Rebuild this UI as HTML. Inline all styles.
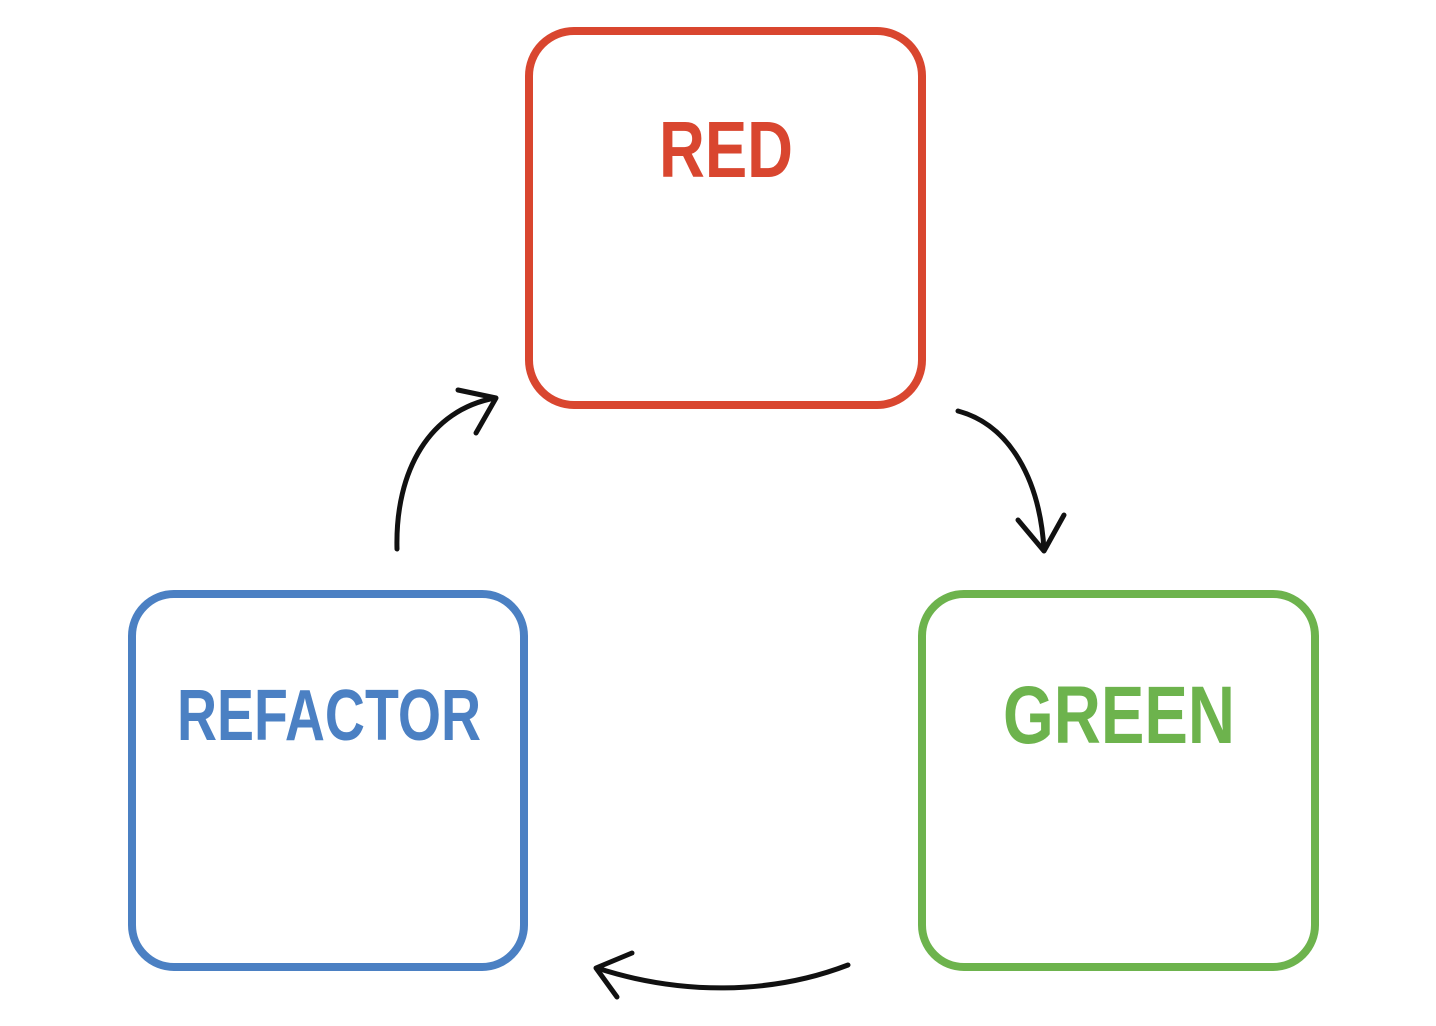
<!DOCTYPE html>
<html><head><meta charset="utf-8"><style>
html,body{margin:0;padding:0;background:#fff;width:1436px;height:1026px;overflow:hidden}
svg{display:block}
text{font-family:"Liberation Sans",sans-serif;font-weight:bold}
</style></head><body>
<svg width="1436" height="1026" viewBox="0 0 1436 1026">
<rect x="529" y="31" width="393" height="374" rx="45" fill="none" stroke="#d9462f" stroke-width="8"/>
<rect x="132" y="594" width="392" height="373" rx="42" fill="none" stroke="#4b80c3" stroke-width="8"/>
<rect x="922" y="594" width="393" height="373" rx="42" fill="none" stroke="#6db34d" stroke-width="8"/>
<text x="726" y="177" text-anchor="middle" font-size="80" fill="#d9462f" textLength="134" lengthAdjust="spacingAndGlyphs">RED</text>
<text x="329" y="740" text-anchor="middle" font-size="72" fill="#4b80c3" textLength="304" lengthAdjust="spacingAndGlyphs">REFACTOR</text>
<text x="1119" y="743" text-anchor="middle" font-size="82" fill="#6db34d" textLength="232" lengthAdjust="spacingAndGlyphs">GREEN</text>
<g fill="none" stroke="#111" stroke-width="5" stroke-linecap="round" stroke-linejoin="round">
<path d="M397 549 C395 470 430 410 495 398"/>
<path d="M458 390 L496 398 L476 433"/>
<path d="M958 411 C1010 425 1040 480 1044 550"/>
<path d="M1018 520 L1044 551 L1064 515"/>
<path d="M848 965 C770 995 680 995 597 968"/>
<path d="M632 953 L596 968 L617 997"/>
</g>
</svg>
</body></html>
